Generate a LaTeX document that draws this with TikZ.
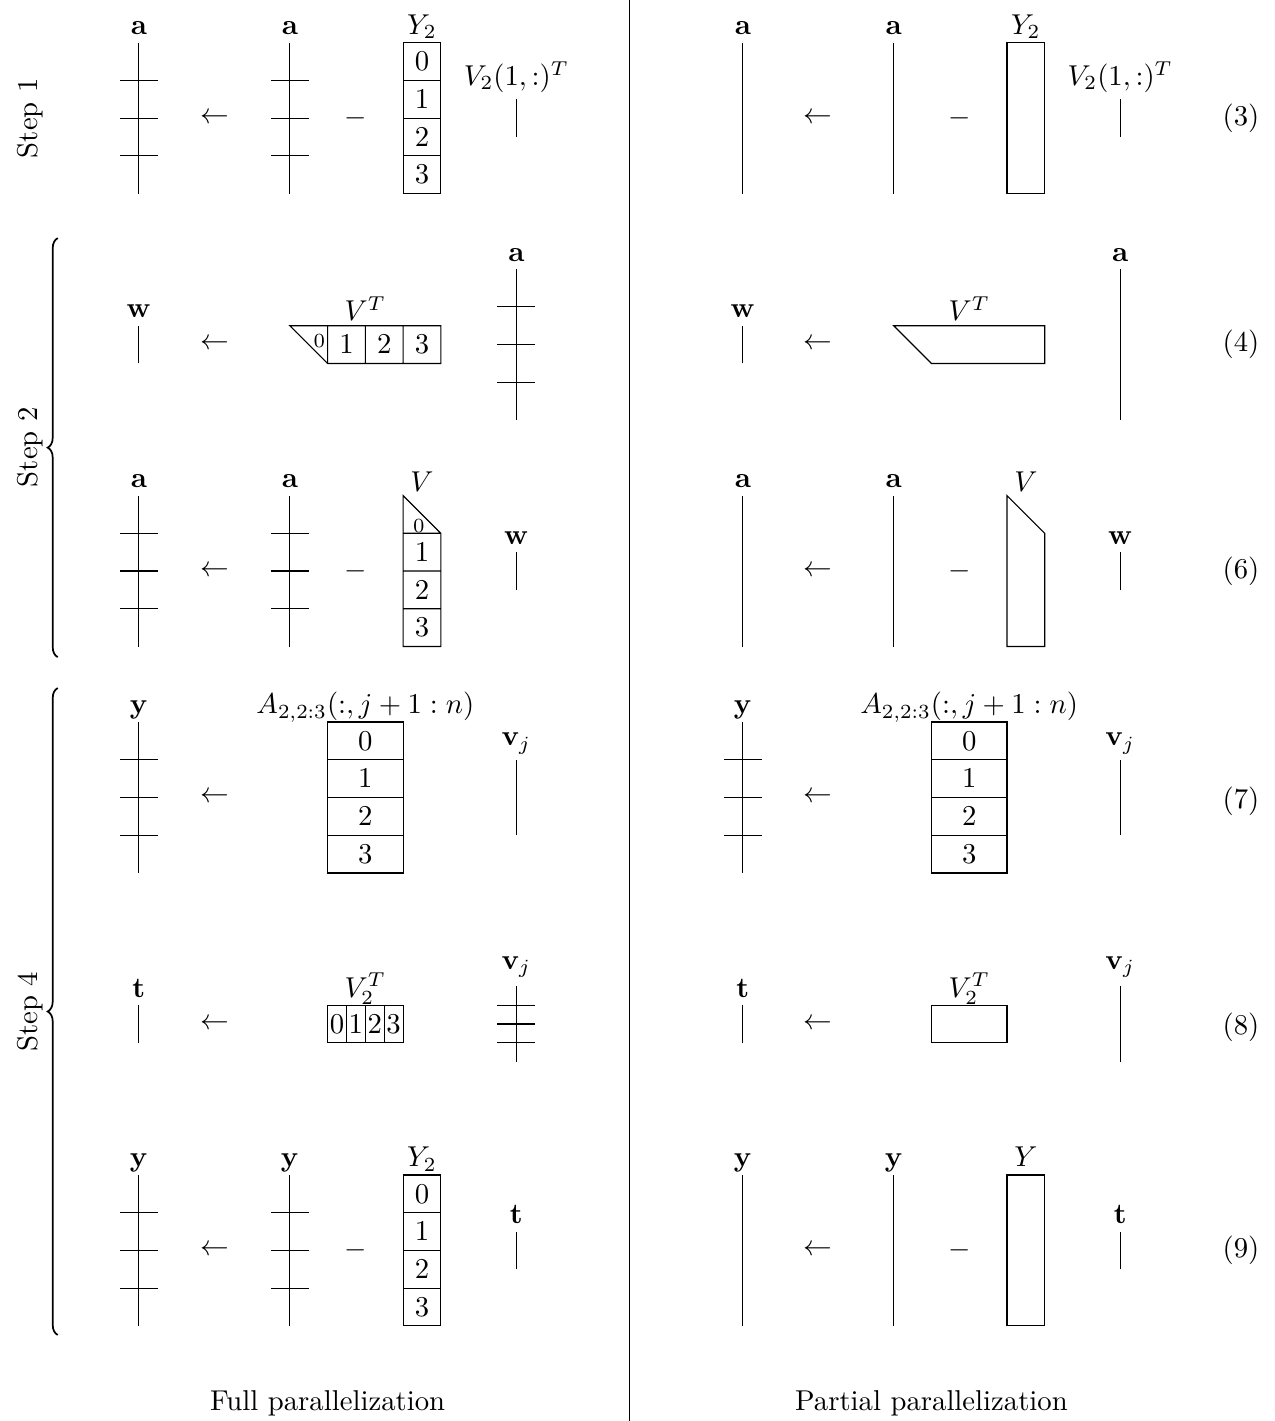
\documentclass[tikz,border=0pt]{standalone}
\usepackage{amsmath, amssymb, bm}
\usetikzlibrary{positioning, decorations.pathreplacing, calc}

\begin{document}
\begin{tikzpicture}[x=0.462cm, y=0.462cm,
    lbl/.style={anchor=base, yshift=2.8pt, inner sep=1pt},
    small/.style={font=\scriptsize, inner sep=0pt},
    digit/.style={inner sep=0pt},
    stepbrace/.style={semithick, decorate, decoration={brace, amplitude=3.5pt}},
    tickvec/.pic={\draw (0,-2) -- (0,2) (-0.5,-1) -- (0.5,-1)
        (-0.5,0) -- (0.5,0) (-0.5,1) -- (0.5,1);},
    longvec/.pic={\draw (0,-2) -- (0,2);},
    midvec/.pic={\draw (0,-1) -- (0,1);},
    shortvec/.pic={\draw (0,-0.5) -- (0,0.5);},
    cellcol/.pic={\draw (-0.5,-2) rectangle (0.5,2) (-0.5,-1) -- (0.5,-1)
        (-0.5,0) -- (0.5,0) (-0.5,1) -- (0.5,1);
        \foreach \k in {0,...,3} \node (-c\k) at (0,1.5-\k) {$\k$};},
    emptycol/.pic={\draw (-0.5,-2) rectangle (0.5,2);}]
    \useasboundingbox (-3.68,3.13) rectangle (30.09,-34.52);
    \draw (13,3.13) -- (13,-34.52);
    \node (fullcap) at (5,-34.05) {Full parallelization};
    \node (partcap) at (21,-34.05) {Partial parallelization};

    % steps
    \node[rotate=90] (st1) at (-2.89,0) {Step 1};
    \node[rotate=90] (st2) at (-2.89,-8.72) {Step 2};
    \node[rotate=90] (st4) at (-2.89,-23.68) {Step 4};
    \draw[stepbrace] (-2.15,-14.28) -- (-2.15,-3.18);
    \draw[stepbrace] (-2.15,-32.24) -- (-2.15,-15.1);

    % (3) full
    \pic at (0,0) {tickvec};
    \node[lbl] (a1l) at (0,2) {$\mathbf{a}$};
    \node (la1) at (2,0) {$\leftarrow$};
    \pic at (4,0) {tickvec};
    \node[lbl] (b1l) at (4,2) {$\mathbf{a}$};
    \node (mi1) at (5.75,0) {$-$};
    \pic (yy1) at (7.5,0) {cellcol};
    \node[lbl] (y1l) at (7.5,2) {$Y_2$};
    \pic at (10,0) {shortvec};
    \node[lbl, yshift=2pt] (v1l) at (10,0.5) {$V_2(1,:)^T$};
    % (3) partial
    \pic at (16,0) {longvec};
    \node[lbl] (a1r) at (16,2) {$\mathbf{a}$};
    \node (ra1) at (18,0) {$\leftarrow$};
    \pic at (20,0) {longvec};
    \node[lbl] (b1r) at (20,2) {$\mathbf{a}$};
    \node (mr1) at (21.75,0) {$-$};
    \pic at (23.5,0) {emptycol};
    \node[lbl] (y1r) at (23.5,2) {$Y_2$};
    \pic at (26,0) {shortvec};
    \node[lbl, yshift=2pt] (v1r) at (26,0.5) {$V_2(1,:)^T$};
    \node (eq3) at (29.2,0) {(3)};

    % (4) full
    \pic at (0,-6) {shortvec};
    \node[lbl] (w2l) at (0,-5.5) {$\mathbf{w}$};
    \node (la2) at (2,-6) {$\leftarrow$};
    \draw (4,-5.5) -- (8,-5.5) -- (8,-6.5) -- (5,-6.5) -- cycle
        (5,-5.5) -- (5,-6.5) (6,-5.5) -- (6,-6.5) (7,-5.5) -- (7,-6.5);
    \node[small, anchor=east] (vt0) at (4.95,-5.9) {$0$};
    \node (vt1) at (5.5,-6) {$1$};
    \node (vt2) at (6.5,-6) {$2$};
    \node (vt3) at (7.5,-6) {$3$};
    \node[lbl, yshift=-1pt] (vt2l) at (6,-5.5) {$V^T$};
    \pic at (10,-6) {tickvec};
    \node[lbl] (a2l) at (10,-4) {$\mathbf{a}$};
    % (4) partial
    \pic at (16,-6) {shortvec};
    \node[lbl] (w2r) at (16,-5.5) {$\mathbf{w}$};
    \node (ra2) at (18,-6) {$\leftarrow$};
    \draw (20,-5.5) -- (24,-5.5) -- (24,-6.5) -- (21,-6.5) -- cycle;
    \node[lbl, yshift=-1pt] (vt2r) at (22,-5.5) {$V^T$};
    \pic at (26,-6) {longvec};
    \node[lbl] (a2r) at (26,-4) {$\mathbf{a}$};
    \node (eq4) at (29.2,-6) {(4)};

    % (6) full
    \pic at (0,-12) {tickvec};
    \node[lbl] (a3l) at (0,-10) {$\mathbf{a}$};
    \node (la3) at (2,-12) {$\leftarrow$};
    \pic at (4,-12) {tickvec};
    \node[lbl] (b3l) at (4,-10) {$\mathbf{a}$};
    \node (mi3) at (5.75,-12) {$-$};
    \draw (7,-10) -- (8,-11) -- (8,-14) -- (7,-14) -- cycle
        (7,-11) -- (8,-11) (7,-12) -- (8,-12) (7,-13) -- (8,-13);
    \node[small] (vv0) at (7.42,-10.8) {$0$};
    \node (vv1) at (7.5,-11.5) {$1$};
    \node (vv2) at (7.5,-12.5) {$2$};
    \node (vv3) at (7.5,-13.5) {$3$};
    \node[lbl, yshift=-1.5pt] (v3l) at (7.5,-10) {$V$};
    \pic at (10,-12) {shortvec};
    \node[lbl] (w3l) at (10,-11.5) {$\mathbf{w}$};
    % (6) partial
    \pic at (16,-12) {longvec};
    \node[lbl] (a3r) at (16,-10) {$\mathbf{a}$};
    \node (ra3) at (18,-12) {$\leftarrow$};
    \pic at (20,-12) {longvec};
    \node[lbl] (b3r) at (20,-10) {$\mathbf{a}$};
    \node (mr3) at (21.75,-12) {$-$};
    \draw (23,-10) -- (24,-11) -- (24,-14) -- (23,-14) -- cycle;
    \node[lbl, yshift=-1.5pt] (v3r) at (23.5,-10) {$V$};
    \pic at (26,-12) {shortvec};
    \node[lbl] (w3r) at (26,-11.5) {$\mathbf{w}$};
    \node (eq6) at (29.2,-12) {(6)};

    % (7) full
    \pic at (0,-18) {tickvec};
    \node[lbl] (y4l) at (0,-16) {$\mathbf{y}$};
    \node (la4) at (2,-18) {$\leftarrow$};
    \draw (5,-20) rectangle (7,-16) (5,-19) -- (7,-19)
        (5,-18) -- (7,-18) (5,-17) -- (7,-17);
    \foreach \k in {0,...,3} \node (al\k) at (6,-16.5-\k) {$\k$};
    \node[lbl] (aa4l) at (6,-16) {$A_{2,2:3}(:,j+1:n)$};
    \pic at (10,-18) {midvec};
    \node[lbl, yshift=2pt] (v4l) at (10,-17) {$\mathbf{v}_j$};
    % (7) partial
    \pic at (16,-18) {tickvec};
    \node[lbl] (y4r) at (16,-16) {$\mathbf{y}$};
    \node (ra4) at (18,-18) {$\leftarrow$};
    \draw (21,-20) rectangle (23,-16) (21,-19) -- (23,-19)
        (21,-18) -- (23,-18) (21,-17) -- (23,-17);
    \foreach \k in {0,...,3} \node (ar\k) at (22,-16.5-\k) {$\k$};
    \node[lbl] (aa4r) at (22,-16) {$A_{2,2:3}(:,j+1:n)$};
    \pic at (26,-18) {midvec};
    \node[lbl, yshift=2pt] (v4r) at (26,-17) {$\mathbf{v}_j$};
    \node (eq7) at (29.2,-18.1) {(7)};

    % (8) full
    \pic at (0,-24) {shortvec};
    \node[lbl] (t5l) at (0,-23.5) {$\mathbf{t}$};
    \node (la5) at (2,-24) {$\leftarrow$};
    \draw (5,-24.5) rectangle (7,-23.5) (5.5,-24.5) -- (5.5,-23.5)
        (6,-24.5) -- (6,-23.5) (6.5,-24.5) -- (6.5,-23.5);
    \foreach \k in {0,...,3} \node[digit] (vs\k) at (5.25+0.5*\k,-24) {$\k$};
    \node[lbl] (vs5l) at (6,-23.5) {$V_2^T$};
    \draw (10,-25) -- (10,-23) (9.5,-24.5) -- (10.5,-24.5)
        (9.5,-24) -- (10.5,-24) (9.5,-23.5) -- (10.5,-23.5);
    \node[lbl, yshift=3pt] (v5l) at (10,-23) {$\mathbf{v}_j$};
    % (8) partial
    \pic at (16,-24) {shortvec};
    \node[lbl] (t5r) at (16,-23.5) {$\mathbf{t}$};
    \node (ra5) at (18,-24) {$\leftarrow$};
    \draw (21,-24.5) rectangle (23,-23.5);
    \node[lbl] (vs5r) at (22,-23.5) {$V_2^T$};
    \pic at (26,-24) {midvec};
    \node[lbl, yshift=3pt] (v5r) at (26,-23) {$\mathbf{v}_j$};
    \node (eq8) at (29.2,-24.1) {(8)};

    % (9) full
    \pic at (0,-30) {tickvec};
    \node[lbl] (y6l) at (0,-28) {$\mathbf{y}$};
    \node (la6) at (2,-30) {$\leftarrow$};
    \pic at (4,-30) {tickvec};
    \node[lbl] (z6l) at (4,-28) {$\mathbf{y}$};
    \node (mi6) at (5.75,-30) {$-$};
    \pic (yy6) at (7.5,-30) {cellcol};
    \node[lbl] (y26l) at (7.5,-28) {$Y_2$};
    \pic at (10,-30) {shortvec};
    \node[lbl] (t6l) at (10,-29.5) {$\mathbf{t}$};
    % (9) partial
    \pic at (16,-30) {longvec};
    \node[lbl] (y6r) at (16,-28) {$\mathbf{y}$};
    \node (ra6) at (18,-30) {$\leftarrow$};
    \pic at (20,-30) {longvec};
    \node[lbl] (z6r) at (20,-28) {$\mathbf{y}$};
    \node (mr6) at (21.75,-30) {$-$};
    \pic at (23.5,-30) {emptycol};
    \node[lbl] (y26r) at (23.5,-28) {$Y$};
    \pic at (26,-30) {shortvec};
    \node[lbl] (t6r) at (26,-29.5) {$\mathbf{t}$};
    \node (eq9) at (29.2,-30) {(9)};
\end{tikzpicture}
\end{document}
